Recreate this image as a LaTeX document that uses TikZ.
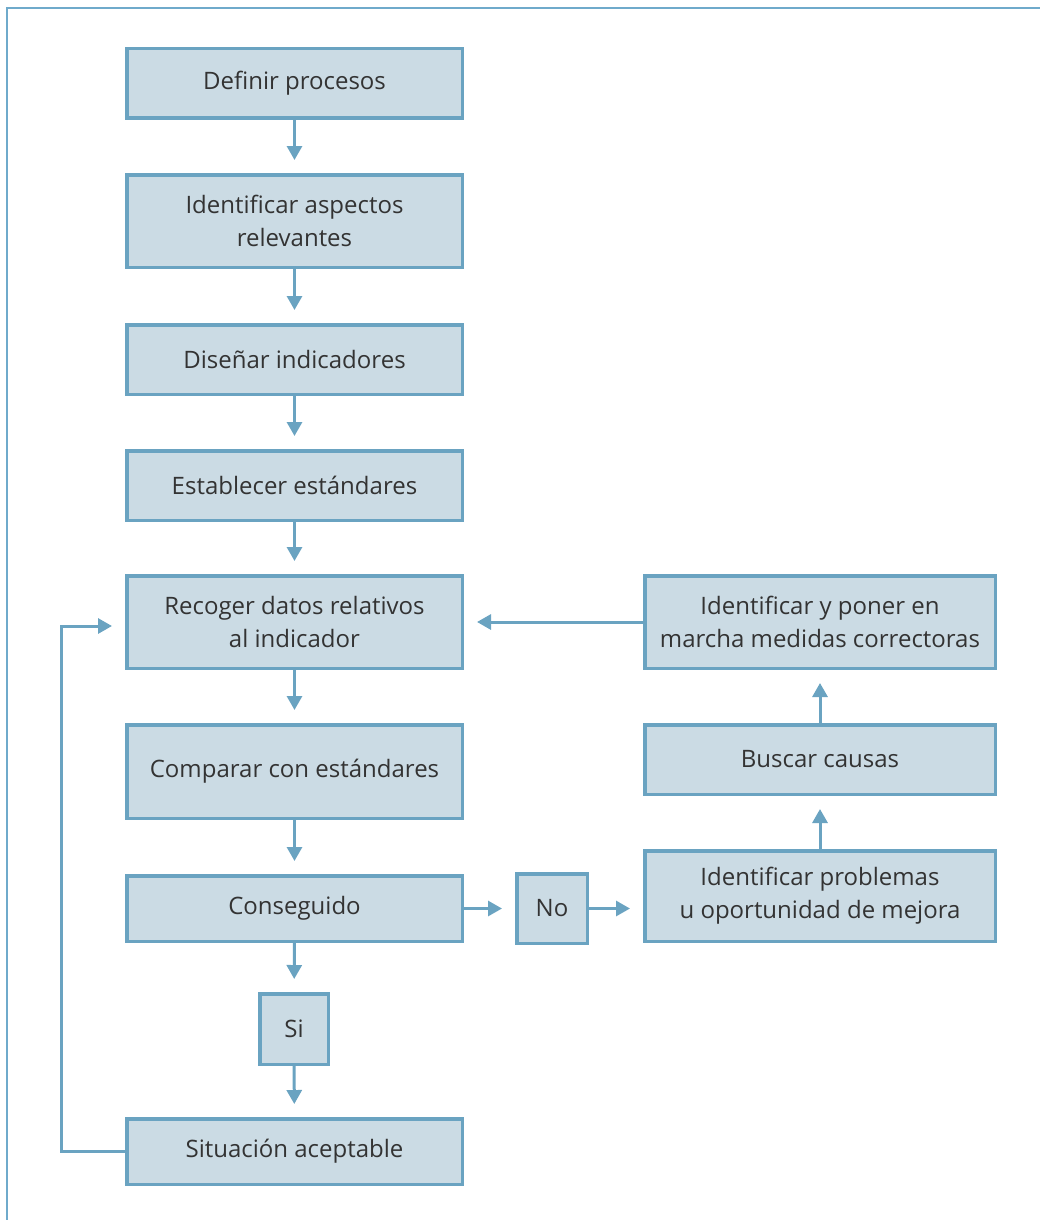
\documentclass[tikz,border=0pt]{standalone}
\usepackage{fontspec}
\setmainfont{Open Sans}
\usetikzlibrary{arrows.meta}
\definecolor{boxfill}{HTML}{CBDBE4}
\definecolor{boxline}{HTML}{6AA3C1}
\definecolor{framec}{HTML}{6FAACB}
\definecolor{txt}{HTML}{333333}
\tikzset{
  stepbox/.style={draw=boxline, fill=boxfill, line width=3.5pt, inner sep=0pt,
    text=txt, align=center,
    font=\fontsize{24}{33}\selectfont},
  flow/.style={draw=boxline, line width=3pt, -{Triangle[length=14pt,width=15pt]}, shorten >=13pt},
}
\begin{document}
\begin{tikzpicture}[x=1pt,y=-1pt]
\useasboundingbox (0,0) rectangle (1040,1220);
\draw[framec, line width=2pt] (7,1220) -- (7,8) -- (1040,8);
% left column
\node[stepbox, minimum width=335.5pt, minimum height=69.5pt] (b1) at (294.5,83.5) {Definir procesos};
\node[stepbox, minimum width=335.5pt, minimum height=92.5pt] (b2) at (294.5,221) {Identificar aspectos\\relevantes};
\node[stepbox, minimum width=335.5pt, minimum height=69.5pt] (b3) at (294.5,359.5) {Diseñar indicadores};
\node[stepbox, minimum width=335.5pt, minimum height=69.5pt] (b4) at (294.5,485.5) {Establecer estándares};
\node[stepbox, minimum width=335.5pt, minimum height=92.5pt] (b5) at (294.5,622) {Recoger datos relativos\\al indicador};
\node[stepbox, minimum width=335.5pt, minimum height=93.5pt] (b6) at (294.5,771.5) {Comparar con estándares};
\node[stepbox, minimum width=335.5pt, minimum height=65.5pt] (b7) at (294.5,908.5) {Conseguido};
\node[stepbox, minimum width=68.5pt, minimum height=70.5pt] (si) at (294,1029) {Si};
\node[stepbox, minimum width=335.5pt, minimum height=65.5pt] (b8) at (294.5,1151.5) {Situación aceptable};
% middle
\node[stepbox, minimum width=70.5pt, minimum height=69.5pt] (no) at (552,908.5) {No};
% right column
\node[stepbox, minimum width=350.5pt, minimum height=92.5pt] (r1) at (820,622) {Identificar y poner en\\marcha medidas correctoras};
\node[stepbox, minimum width=350.5pt, minimum height=69.5pt] (r2) at (820,759.5) {Buscar causas};
\node[stepbox, minimum width=350.5pt, minimum height=90.5pt] (r3) at (820,896) {Identificar problemas\\u oportunidad de mejora};
% connectors
\draw[flow] (b1) -- (b2);
\draw[flow] (b2) -- (b3);
\draw[flow] (b3) -- (b4);
\draw[flow] (b4) -- (b5);
\draw[flow] (b5) -- (b6);
\draw[flow] (b6) -- (b7);
\draw[flow] (b7) -- (si);
\draw[flow] (si) -- (b8);
\draw[flow] (b7.east) -- (no.west);
\draw[flow] (no.east) -- (no.east -| r3.west);
\draw[flow] (r3) -- (r2);
\draw[flow] (r2) -- (r1);
\draw[flow] (r1.west) -- (b5.east);
\coordinate (loop) at (61,626);
\draw[flow] (b8.west) -| (loop) -- (loop -| b5.west);
\end{tikzpicture}
\end{document}
